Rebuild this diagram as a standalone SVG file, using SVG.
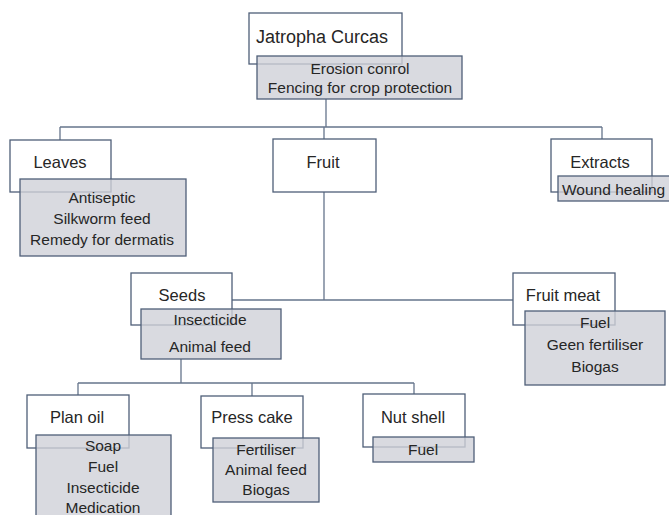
<svg xmlns="http://www.w3.org/2000/svg" width="669" height="515" viewBox="0 0 669 515">
<style>
.box{fill:#ffffff;stroke:#4f5f78;stroke-width:1.3}
.sub{fill:#cfd1d8;fill-opacity:0.8;stroke:#4f5f78;stroke-width:1.3}
.t{font-family:"Liberation Sans",Arial,sans-serif;font-size:16.5px;fill:#262626;text-anchor:middle}
.s{font-family:"Liberation Sans",Arial,sans-serif;font-size:15.5px;fill:#262626;text-anchor:middle}
.c{fill:none;stroke:#66758c;stroke-width:1.3}
</style>
<rect width="669" height="515" fill="#ffffff"/>
<g id="connectors">
<path class="c" d="M326,99 V127 M60,127 H602 M60,127 V140 M324,127 V139 M602,127 V139"/>
<path class="c" d="M324,192 V300 M232,300 H513"/>
<path class="c" d="M181,359 V383 M78,383 H414 M78,383 V395 M252,383 V396 M414,383 V394"/>
</g>
<g id="jatropha">
<rect class="box" x="249" y="13" width="153" height="51"/>
<text class="t" x="322" y="43" style="font-size:18px">Jatropha Curcas</text>
<rect class="sub" x="257" y="56" width="205" height="43"/>
<text class="s" x="360" y="74">Erosion conrol</text>
<text class="s" x="360" y="93">Fencing for crop protection</text>
</g>
<g id="leaves">
<rect class="box" x="10" y="140" width="101" height="52"/>
<text class="t" x="60" y="168">Leaves</text>
<rect class="sub" x="20" y="179" width="166" height="77"/>
<text class="s" x="102" y="203">Antiseptic</text>
<text class="s" x="102" y="224">Silkworm feed</text>
<text class="s" x="102" y="245">Remedy for dermatis</text>
</g>
<g id="fruit">
<rect class="box" x="273" y="139" width="103" height="53"/>
<text class="t" x="323" y="168">Fruit</text>
</g>
<g id="extracts">
<rect class="box" x="551" y="139" width="101" height="53"/>
<text class="t" x="600" y="168">Extracts</text>
<rect class="sub" x="558" y="176" width="118" height="25"/>
<text class="s" x="562" y="195" style="text-anchor:start">Wound healing</text>
</g>
<g id="seeds">
<rect class="box" x="131" y="273" width="101" height="52"/>
<text class="t" x="182" y="301">Seeds</text>
<rect class="sub" x="141" y="309" width="140" height="50"/>
<text class="s" x="210" y="325">Insecticide</text>
<text class="s" x="210" y="352">Animal feed</text>
</g>
<g id="fruitmeat">
<rect class="box" x="513" y="273" width="102" height="52"/>
<text class="t" x="563" y="301">Fruit meat</text>
<rect class="sub" x="525" y="311" width="140" height="74"/>
<text class="s" x="595" y="328">Fuel</text>
<text class="s" x="595" y="350">Geen fertiliser</text>
<text class="s" x="595" y="372">Biogas</text>
</g>
<g id="planoil">
<rect class="box" x="27" y="395" width="102" height="53"/>
<text class="t" x="77" y="423">Plan oil</text>
<rect class="sub" x="36" y="435" width="135" height="85"/>
<text class="s" x="103" y="451">Soap</text>
<text class="s" x="103" y="472">Fuel</text>
<text class="s" x="103" y="493">Insecticide</text>
<text class="s" x="103" y="513">Medication</text>
</g>
<g id="presscake">
<rect class="box" x="201" y="396" width="102" height="52"/>
<text class="t" x="252" y="423">Press cake</text>
<rect class="sub" x="213" y="438" width="106" height="64"/>
<text class="s" x="266" y="455">Fertiliser</text>
<text class="s" x="266" y="475">Animal feed</text>
<text class="s" x="266" y="495">Biogas</text>
</g>
<g id="nutshell">
<rect class="box" x="363" y="394" width="102" height="53"/>
<text class="t" x="413" y="423">Nut shell</text>
<rect class="sub" x="373" y="437" width="101" height="25"/>
<text class="s" x="423" y="455">Fuel</text>
</g>
</svg>
